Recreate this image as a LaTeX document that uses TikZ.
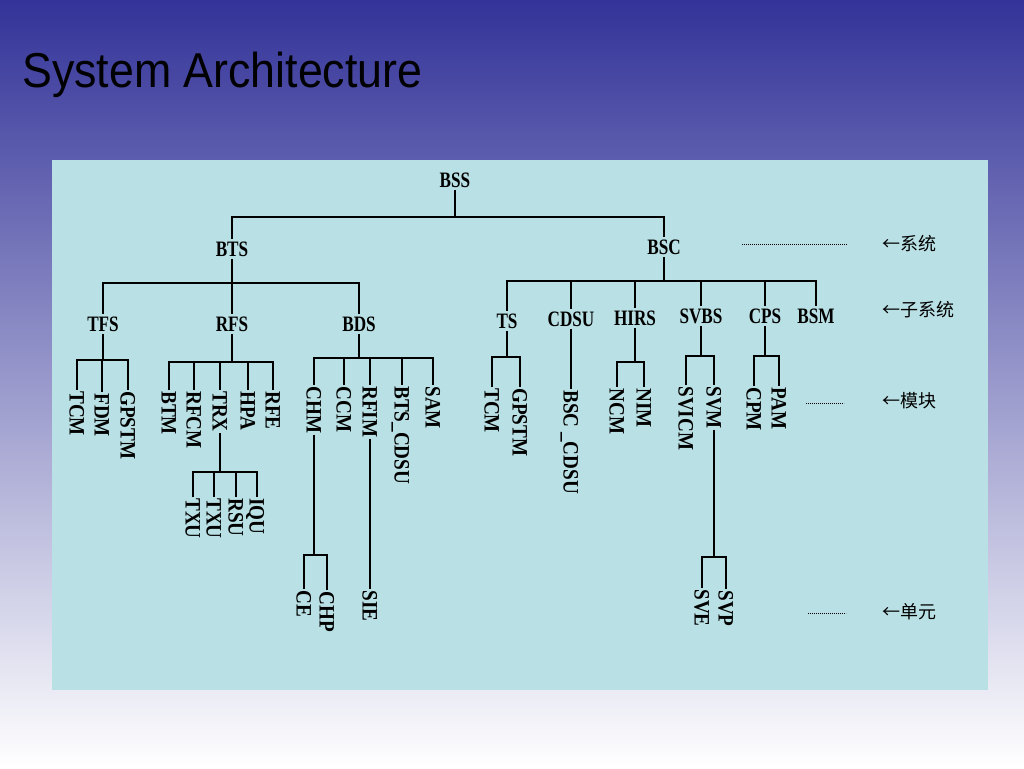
\documentclass[tikz,border=0pt]{standalone}
\usepackage{fontspec}
\setmainfont{Liberation Serif}
\newfontfamily\titlefont{Liberation Sans}
\newfontfamily\cjkfont{Noto Sans CJK SC}
\definecolor{slideblue}{RGB}{51,51,153}
\definecolor{panelcyan}{RGB}{185,224,228}

\begin{document}
\begin{tikzpicture}[x=0.75pt,y=0.75pt,yscale=-1,xscale=1,
  sysnode/.style={font=\fontsize{16.5}{18}\selectfont\bfseries, xscale=0.78, inner sep=2pt},
  leaf/.style={font=\fontsize{16.5}{18}\selectfont\bfseries, rotate=-90, xscale=0.87, anchor=west, inner sep=1pt, text height=11pt, text depth=0pt},
  tier/.style={font=\cjkfont\fontsize{13.5}{15}\selectfont, anchor=west, inner sep=0pt},
  guide/.style={line width=0.6pt, dash pattern=on 0.6pt off 0.9pt},
  treeline/.style={line width=1pt}]
\useasboundingbox (0,0) rectangle (1024,768);

%Shape: Background
\shade [top color=slideblue, bottom color=white] (0,0) rectangle (1024,768);
%Shape: Panel
\fill [panelcyan] (52,160) rectangle (988,690);

% Text Node
\node [font=\titlefont\fontsize{36.7}{40}\selectfont, anchor=base west, xscale=0.914, inner sep=0pt] (title) at (22,87) {System Architecture};

% Text Node
\node [sysnode] (bss) at (455,180) {BSS};
\node [sysnode] (bts) at (232,249) {BTS};
\node [sysnode] (bsc) at (664,247) {BSC};
% Text Node
\node [sysnode] (tfs) at (103,324) {TFS};
\node [sysnode] (rfs) at (232,324) {RFS};
\node [sysnode] (bds) at (359,324) {BDS};
% Text Node
\node [sysnode] (ts) at (507,321) {TS};
\node [sysnode] (cdsu) at (571,319) {CDSU};
\node [sysnode] (hirs) at (635,318) {HIRS};
\node [sysnode] (svbs) at (701,316) {SVBS};
\node [sysnode] (cps) at (765,316) {CPS};
\node [sysnode] (bsm) at (816,316) {BSM};

% Text Node
\node [leaf] (tcma) at (77,390) {TCM};
\node [leaf] (fdm) at (102,392) {FDM};
\node [leaf] (gpstma) at (128,390) {GPSTM};
% Text Node
\node [leaf] (btm) at (169,390) {BTM};
\node [leaf] (rfcm) at (194,390) {RFCM};
\node [leaf] (trx) at (220,390) {TRX};
\node [leaf] (hpa) at (248,390) {HPA};
\node [leaf] (rfe) at (273,390) {RFE};
% Text Node
\node [leaf] (txua) at (193,497) {TXU};
\node [leaf] (txub) at (214,497) {TXU};
\node [leaf] (rsu) at (236,497) {RSU};
\node [leaf] (iqu) at (257,497) {IQU};
% Text Node
\node [leaf] (chm) at (314,385) {CHM};
\node [leaf] (ccm) at (344,385) {CCM};
\node [leaf] (rfim) at (370,385) {RFIM};
\node [leaf] (btscdsu) at (402,385) {BTS\_CDSU};
\node [leaf] (sam) at (433,385) {SAM};
% Text Node
\node [leaf] (ce) at (304,589) {CE};
\node [leaf] (chp) at (327,590) {CHP};
\node [leaf] (sie) at (370,589) {SIE};
% Text Node
\node [leaf] (tcmb) at (492,387) {TCM};
\node [leaf] (gpstmb) at (520,387) {GPSTM};
\node [leaf] (bsccdsu) at (571,389) {BSC \_CDSU};
\node [leaf] (ncm) at (617,387) {NCM};
\node [leaf] (nim) at (644,387) {NIM};
\node [leaf] (svicm) at (686,385) {SVICM};
\node [leaf] (svm) at (714,385) {SVM};
\node [leaf] (cpm) at (754,386) {CPM};
\node [leaf] (pam) at (779,386) {PAM};
% Text Node
\node [leaf] (sve) at (702,588) {SVE};
\node [leaf] (svp) at (726,589) {SVP};

% Text Node
\node [tier] (tsys) at (882,244) {←系统};
\node [tier] (tsub) at (882,310) {←子系统};
\node [tier] (tmod) at (882,401) {←模块};
\node [tier] (tunit) at (882,612) {←单元};

%Straight Lines
\draw [guide] (742,244.5) -- (847,244.5);
\draw [guide] (806,403) -- (844,403);
\draw [guide] (808,613) -- (846,613);

\coordinate (bssbar) at (455,217);
\coordinate (btsbar) at (232,283);
\coordinate (bscbar) at (664,281);
\coordinate (tfsbar) at (103,360);
\coordinate (rfsbar) at (232,362);
\coordinate (bdsbar) at (359,358);
\coordinate (trxbar) at (220,472);
\coordinate (chmbar) at (314,555);
\coordinate (tsbar) at (507,357);
\coordinate (hirsbar) at (635,362);
\coordinate (svbsbar) at (701,356);
\coordinate (cpsbar) at (765,356);
\coordinate (svmbar) at (714,557);

%Straight Lines
\draw [treeline] (bss.south) -- (bssbar);
\draw [treeline] (bts.north) |- (bssbar) -| (bsc.north);
%Straight Lines
\draw [treeline] (bts.south) -- (btsbar);
\draw [treeline] (tfs.north) |- (btsbar) -| (bds.north);
\draw [treeline] (rfs.north) -- (btsbar);
%Straight Lines
\draw [treeline] (bsc.south) -- (bscbar);
\draw [treeline] (ts.north) |- (bscbar) -| (bsm.north);
\foreach \n in {cdsu,hirs,svbs,cps} \draw [treeline] (\n.north) -- (\n.north |- bscbar);
%Straight Lines
\draw [treeline] (tfs.south) -- (tfsbar);
\draw [treeline] (tcma.west) |- (tfsbar) -| (gpstma.west);
\draw [treeline] (fdm.west) -- (fdm.west |- tfsbar);
%Straight Lines
\draw [treeline] (rfs.south) -- (rfsbar);
\draw [treeline] (btm.west) |- (rfsbar) -| (rfe.west);
\foreach \n in {rfcm,trx,hpa} \draw [treeline] (\n.west) -- (\n.west |- rfsbar);
%Straight Lines
\draw [treeline] (trx.east) -- (trxbar);
\draw [treeline] (txua.west) |- (trxbar) -| (iqu.west);
\foreach \n in {txub,rsu} \draw [treeline] (\n.west) -- (\n.west |- trxbar);
%Straight Lines
\draw [treeline] (bds.south) -- (bdsbar);
\draw [treeline] (chm.west) |- (bdsbar) -| (sam.west);
\foreach \n in {ccm,rfim,btscdsu} \draw [treeline] (\n.west) -- (\n.west |- bdsbar);
%Straight Lines
\draw [treeline] (chm.east) -- (chmbar);
\draw [treeline] (ce.west) |- (chmbar) -| (chp.west);
\draw [treeline] (rfim.east) -- (sie.west);
%Straight Lines
\draw [treeline] (ts.south) -- (tsbar);
\draw [treeline] (tcmb.west) |- (tsbar) -| (gpstmb.west);
\draw [treeline] (cdsu.south) -- (bsccdsu.west);
\draw [treeline] (hirs.south) -- (hirsbar);
\draw [treeline] (ncm.west) |- (hirsbar) -| (nim.west);
\draw [treeline] (svbs.south) -- (svbsbar);
\draw [treeline] (svicm.west) |- (svbsbar) -| (svm.west);
\draw [treeline] (cps.south) -- (cpsbar);
\draw [treeline] (cpm.west) |- (cpsbar) -| (pam.west);
%Straight Lines
\draw [treeline] (svm.east) -- (svmbar);
\draw [treeline] (sve.west) |- (svmbar) -| (svp.west);

\end{tikzpicture}
\end{document}
